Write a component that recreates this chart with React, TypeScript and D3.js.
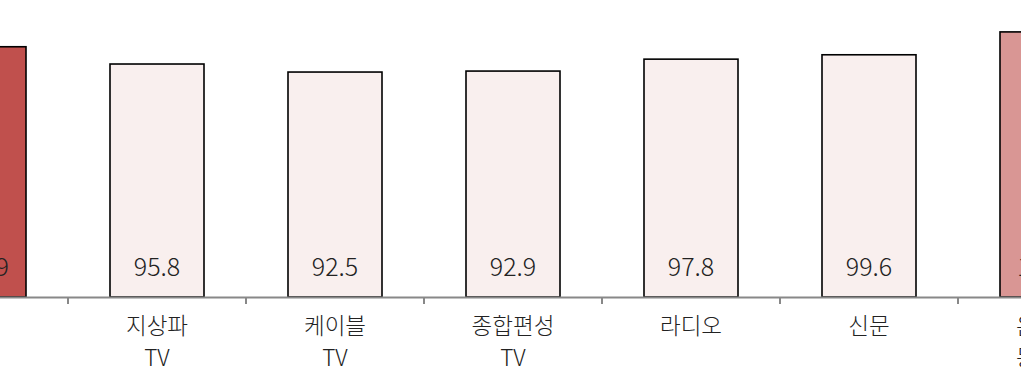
import React from "react";
import * as d3 from "d3";

const categories = ["포털", "지상파\nTV", "케이블\nTV", "종합편성\nTV", "라디오", "신문", "온라인\n동영상"];
const values = [102.9, 95.8, 92.5, 92.9, 97.8, 99.6, 109.0];
const fills = ["#c0504d", "#f9efee", "#f9efee", "#f9efee", "#f9efee", "#f9efee", "#d99694"];

const W = 1021;
const H = 389;

export default function App() {
  const x = d3
    .scaleBand<string>()
    .domain(categories)
    .range([-152, -152 + 178 * (7 + 84 / 178)])
    .padding(84 / 178);
  const y = d3.scaleLinear().domain([0, 110]).range([297, 297 - 2.432 * 110]);
  const step = x.step();
  const bw = x.bandwidth();
  const font = "'Noto Sans CJK KR', 'Noto Sans', sans-serif";
  return (
    <svg width={W} height={H} style={{ position: "absolute", left: 0, top: 0 }} fontFamily={font}>
      {categories.map((c, i) => {
        const x0 = x(c)!;
        const cx = x0 + bw / 2;
        return (
          <g key={c}>
            <rect x={x0} y={y(values[i])} width={bw} height={y(0) - y(values[i])} fill={fills[i]} stroke="#000" strokeWidth={1.6} />
            <text x={cx} y={276} textAnchor="middle" fontSize={25} fontWeight={300} fill="#222">
              {values[i].toFixed(1)}
            </text>
            {c.split("\n").map((line, j) => (
              <text key={j} x={cx} y={334 + j * 32} textAnchor="middle" fontSize={22.5} fontWeight={300} fill="#222">
                {line}
              </text>
            ))}
          </g>
        );
      })}
      <line x1={0} x2={W} y1={y(0) + 0.5} y2={y(0) + 0.5} stroke="#888" strokeWidth={2} />
      {categories.map((c) => {
        const tx = x(c)! + bw / 2 + step / 2;
        return <line key={"t" + c} x1={tx} x2={tx} y1={y(0)} y2={y(0) + 7} stroke="#888" strokeWidth={2} />;
      })}
    </svg>
  );
}
